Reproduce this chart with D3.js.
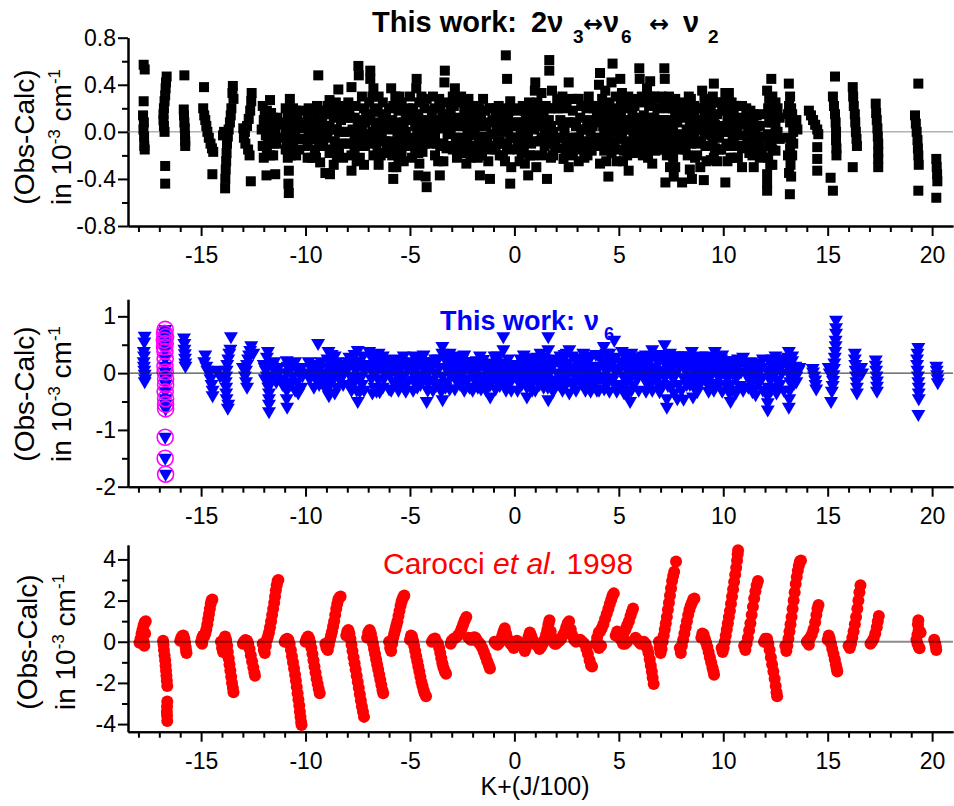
<!DOCTYPE html>
<html>
<head>
<meta charset="utf-8">
<script src="https://cdn.jsdelivr.net/npm/d3@7"></script>
<style>
  body { margin: 0; background: #fff; }
  text { white-space: pre; }
</style>
</head>
<body>
<svg id="chart" width="954" height="806" font-family='"Liberation Sans", Arial, sans-serif'></svg>
<script>
// x = K + J/100
var xMajor = [-15, -10, -5, 0, 5, 10, 15, 20];
var xMinor = [-18, -17, -16, -14, -13, -12, -11, -9, -8, -7, -6, -4, -3, -2, -1,
  1, 2, 3, 4, 6, 7, 8, 9, 11, 12, 13, 14, 16, 17, 18, 19];

var y1Major = [-0.8, -0.4, 0, 0.4, 0.8];
var y1Minor = [-0.6, -0.2, 0.2, 0.6];
var y2Major = [-2, -1, 0, 1];
var y2Minor = [-1.5, -0.5, 0.5];
var y3Major = [-4, -2, 0, 2, 4];
var y3Minor = [-3, -1, 1, 3];

// panel 1 : 2v3 <-> v6 <-> v2 fit (Obs-Calc, 1e-3 cm-1)
var blackRes = [
  [-17.75,0.57],[-17.7,0.53],[-17.75,0.26],[-17.78,0.14],[-17.74,0.08],[-17.76,0.02],[-17.73,-0.04],[-17.72,-0.12],[-17.7,-0.15],
  [-16.65,0.47],[-16.68,0.42],[-16.7,0.37],[-16.72,0.31],[-16.75,0.26],[-16.78,0.2],[-16.8,0.15],[-16.8,0.1],[-16.78,0.05],[-16.75,0.0],[-16.72,-0.29],[-16.72,-0.44],
  [-15.8,0.48],[-15.83,0.19],[-15.82,0.14],[-15.8,0.08],[-15.78,0.03],[-15.77,-0.03],[-15.76,-0.08],[-15.76,-0.12],
  [-14.86,0.38],[-14.9,0.2],[-14.85,0.14],[-14.8,0.1],[-14.75,0.05],[-14.7,0.0],[-14.63,-0.05],[-14.55,-0.1],[-14.48,-0.14],[-14.42,-0.17],[-14.46,-0.36],
  [-13.85,-0.48],[-13.84,-0.4],[-13.82,-0.32],[-13.8,-0.25],[-13.78,-0.18],[-13.76,-0.1],[-13.72,-0.04],[-13.68,0.02],[-13.9,0.0],[-13.95,-0.03],[-13.62,0.08],[-13.58,0.14],[-13.55,0.2],[-13.5,0.33],[-13.48,0.39],[-13.45,0.28],
  [-12.58,0.33],[-12.6,0.26],[-12.65,0.18],[-12.72,0.11],[-12.8,0.05],[-12.9,0.0],[-12.95,-0.05],[-12.88,-0.1],[-12.75,-0.15],[-12.68,-0.2],[-12.62,-0.42],[-12.98,0.03],
  [-11.7,0.27],[-12.05,0.22],[-11.85,0.18],[-11.55,0.12],[-12.0,0.1],[-11.75,0.06],[-12.1,0.02],[-11.45,0.0],[-11.9,-0.03],[-11.65,-0.08],[-12.05,-0.12],[-11.4,-0.1],[-11.85,-0.15],[-12.0,-0.22],[-11.55,-0.2],[-11.87,-0.37],[-11.45,-0.36],
  [-11.95,0.05],[-11.6,0.02],[-11.3,0.06],[-11.8,-0.08],[-11.5,-0.1],[-11.95,0.14],[-11.65,0.16],[-11.35,0.12],[-11.7,-0.2],[-11.3,-0.05],
  [-10.75,0.28],[-10.95,0.2],[-10.6,0.2],[-10.85,0.12],[-10.4,0.14],[-10.7,0.06],[-10.2,0.08],[-10.95,0.0],[-10.5,0.0],[-10.1,0.03],[-10.8,-0.07],[-10.3,-0.06],[-10.95,-0.15],[-10.6,-0.13],[-10.85,-0.22],[-10.45,-0.2],[-10.8,-0.33],[-10.82,-0.44],[-10.8,-0.52],
  [-10.9,0.08],[-10.65,0.1],[-10.35,0.05],[-10.15,-0.06],[-10.6,-0.05],[-10.9,-0.08],[-10.45,0.18],[-10.2,0.18],[-10.7,-0.2],[-10.3,-0.15],
  [-9.39,0.48],[-9.75,0.18],[-9.55,0.15],[-9.9,0.1],[-9.3,0.1],[-9.65,0.05],[-9.85,0.0],[-9.45,0.0],[-9.15,0.02],[-9.7,-0.06],[-9.35,-0.08],[-9.9,-0.12],[-9.55,-0.15],[-9.15,-0.12],[-9.7,-0.22],[-9.3,-0.26],[-9.05,-0.35],
  [-9.95,0.05],[-9.6,0.1],[-9.2,0.08],[-9.8,-0.05],[-9.5,-0.06],[-9.2,-0.05],[-9.85,0.2],[-9.45,0.22],[-9.1,0.18],[-9.5,-0.22],[-9.9,-0.22],
  [-8.43,0.36],[-8.85,0.27],[-8.55,0.25],[-8.2,0.22],[-8.95,0.15],[-8.65,0.12],[-8.3,0.1],[-8.85,0.05],[-8.5,0.02],[-8.15,0.0],[-8.95,-0.05],[-8.6,-0.08],[-8.3,-0.1],[-8.85,-0.18],[-8.5,-0.2],[-8.2,-0.22],[-8.83,-0.36],
  [-8.95,0.22],[-8.7,0.2],[-8.35,0.18],[-8.1,0.12],[-8.75,0.02],[-8.4,0.0],[-8.1,-0.1],[-8.7,-0.15],[-8.4,-0.18],[-8.65,-0.28],
  [-7.47,0.56],[-7.45,0.48],[-7.8,0.38],[-7.3,0.3],[-7.95,0.25],[-7.6,0.22],[-7.2,0.2],[-7.85,0.12],[-7.5,0.1],[-7.15,0.08],[-7.95,0.0],[-7.65,-0.02],[-7.3,0.0],[-7.85,-0.1],[-7.5,-0.12],[-7.15,-0.12],[-7.8,-0.2],[-7.4,-0.22],[-7.8,-0.33],[-7.2,-0.28],
  [-7.9,0.18],[-7.65,0.12],[-7.4,0.05],[-7.1,0.15],[-7.75,0.02],[-7.45,-0.04],[-7.1,-0.04],[-7.65,-0.15],[-7.3,-0.12],[-7.55,-0.25],
  [-6.9,0.52],[-6.9,0.45],[-6.75,0.37],[-6.5,0.3],[-6.95,0.25],[-6.3,0.25],[-6.7,0.17],[-6.15,0.15],[-6.9,0.1],[-6.5,0.08],[-6.2,0.05],[-6.8,0.0],[-6.4,-0.02],[-6.9,-0.1],[-6.6,-0.1],[-6.2,-0.08],[-6.75,-0.2],[-6.4,-0.2],[-6.5,-0.28],
  [-6.8,0.3],[-6.55,0.2],[-6.3,0.12],[-6.1,0.05],[-6.65,0.05],[-6.35,0.0],[-6.1,-0.12],[-6.85,-0.02],[-6.55,-0.18],[-6.25,-0.18],
  [-5.9,0.37],[-5.7,0.3],[-5.4,0.25],[-6.0,0.2],[-5.55,0.18],[-5.2,0.15],[-5.85,0.1],[-5.45,0.08],[-6.0,0.02],[-5.6,0.0],[-5.2,0.0],[-5.9,-0.08],[-5.5,-0.1],[-5.25,-0.12],[-5.85,-0.2],[-5.55,-0.22],[-5.8,-0.3],[-5.8,-0.4],[-5.3,-0.25],
  [-5.8,0.22],[-5.5,0.3],[-5.3,0.08],[-5.1,0.2],[-5.75,0.05],[-5.45,-0.02],[-5.1,-0.08],[-5.7,-0.12],[-5.4,-0.18],[-5.65,-0.3],
  [-4.68,0.45],[-4.7,0.37],[-5.0,0.3],[-4.45,0.3],[-4.85,0.2],[-4.3,0.2],[-4.6,0.15],[-5.05,0.1],[-4.15,0.1],[-4.75,0.05],[-4.4,0.02],[-4.9,-0.05],[-4.55,-0.07],[-4.2,-0.05],[-4.75,-0.15],[-4.4,-0.17],[-4.9,-0.22],[-4.55,-0.27],[-4.6,-0.37],[-4.2,-0.47],[-4.25,-0.38],
  [-4.95,0.18],[-4.55,0.25],[-4.2,0.28],[-4.8,0.12],[-4.45,0.1],[-4.1,0.0],[-4.65,-0.02],[-4.3,-0.1],[-4.95,-0.12],[-4.6,-0.18],
  [-3.33,0.52],[-3.35,0.42],[-3.9,0.3],[-3.6,0.28],[-3.2,0.25],[-3.95,0.18],[-3.45,0.15],[-3.75,0.1],[-3.1,0.1],[-4.0,0.05],[-3.5,0.03],[-3.8,-0.03],[-3.2,-0.02],[-3.95,-0.1],[-3.55,-0.12],[-3.25,-0.14],[-3.8,-0.2],[-3.57,-0.37],[-3.4,-0.25],
  [-3.8,0.2],[-3.55,0.2],[-3.3,0.12],[-3.05,0.18],[-3.7,0.03],[-3.35,0.05],[-3.05,0.0],[-3.7,-0.1],[-3.4,-0.1],[-3.1,-0.12],[-3.65,-0.25],
  [-2.85,0.37],[-2.55,0.3],[-2.2,0.28],[-2.9,0.22],[-2.4,0.18],[-2.7,0.12],[-2.1,0.12],[-2.95,0.05],[-2.5,0.05],[-2.25,0.0],[-2.8,-0.05],[-2.4,-0.08],[-2.95,-0.15],[-2.6,-0.15],[-2.15,-0.15],[-2.3,-0.27],[-2.75,-0.22],
  [-2.95,0.3],[-2.7,0.25],[-2.35,0.25],[-2.05,0.2],[-2.75,0.05],[-2.4,0.1],[-2.1,0.05],[-2.6,-0.05],[-2.25,-0.08],[-2.85,-0.12],[-2.45,-0.18],[-2.1,-0.22],
  [-1.5,0.28],[-1.85,0.22],[-1.2,0.2],[-1.95,0.12],[-1.6,0.14],[-1.05,0.1],[-1.75,0.05],[-1.35,0.05],[-1.9,-0.03],[-1.5,-0.04],[-1.1,-0.02],[-1.8,-0.12],[-1.4,-0.12],[-1.0,-0.12],[-1.75,-0.22],[-1.25,-0.25],[-1.65,-0.37],[-1.17,-0.4],
  [-1.7,0.2],[-1.4,0.18],[-1.05,0.2],[-1.85,0.05],[-1.55,0.06],[-1.2,0.08],[-1.7,-0.08],[-1.3,-0.05],[-1.55,-0.2],[-1.1,-0.15],[-1.9,-0.2],
  [-0.41,0.65],[-0.35,0.45],[-0.2,0.26],[-0.75,0.22],[-0.5,0.2],[-0.9,0.12],[-0.3,0.12],[-0.65,0.08],[-0.1,0.05],[-0.85,0.0],[-0.45,0.0],[-0.2,-0.05],[-0.7,-0.08],[-0.35,-0.12],[-0.9,-0.15],[-0.55,-0.2],[-0.45,-0.25],[-0.2,-0.44],[-0.15,-0.3],
  [-0.85,0.2],[-0.6,0.18],[-0.25,0.18],[-0.75,0.02],[-0.55,0.1],[-0.3,0.02],[-0.05,-0.05],[-0.8,-0.1],[-0.6,-0.1],[-0.25,-0.15],[-0.7,-0.2],
  [0.98,0.35],[0.7,0.25],[0.4,0.22],[0.1,0.18],[0.85,0.12],[0.55,0.1],[0.2,0.08],[0.95,0.02],[0.65,0.0],[0.3,-0.02],[0.05,-0.05],[0.8,-0.1],[0.45,-0.12],[0.15,-0.15],[0.9,-0.2],[0.66,-0.37],[0.5,-0.27],[0.25,-0.25],
  [0.2,0.2],[0.5,0.18],[0.8,0.2],[0.1,0.08],[0.35,0.05],[0.75,0.05],[0.15,-0.08],[0.55,-0.05],[0.95,-0.08],[0.35,-0.18],[0.75,-0.2],
  [1.67,0.61],[1.67,0.52],[1.0,0.42],[1.3,0.33],[1.8,0.35],[1.1,0.25],[1.5,0.22],[1.9,0.2],[1.25,0.12],[1.65,0.1],[1.05,0.05],[1.45,0.02],[1.85,0.0],[1.2,-0.08],[1.6,-0.1],[1.95,-0.12],[1.35,-0.2],[1.75,-0.22],[1.05,-0.3],[1.56,-0.4],
  [1.2,0.2],[1.4,0.15],[1.7,0.2],[1.15,0.05],[1.35,0.08],[1.75,0.05],[1.3,-0.05],[1.55,-0.02],[1.85,-0.08],[1.45,-0.12],[1.85,-0.2],
  [2.6,0.42],[3.0,0.28],[2.3,0.3],[2.1,0.2],[2.5,0.22],[2.8,0.18],[2.2,0.1],[2.65,0.08],[2.95,0.05],[2.4,0.0],[2.1,-0.05],[2.75,-0.05],[2.3,-0.14],[2.6,-0.15],[2.9,-0.12],[2.35,-0.23],[2.6,-0.3],[2.8,-0.2],
  [2.05,0.28],[2.35,0.2],[2.75,0.28],[2.3,0.05],[2.55,0.08],[2.85,0.08],[2.2,-0.05],[2.5,-0.08],[2.95,-0.05],[2.45,-0.15],[2.75,-0.15],
  [3.08,0.28],[3.56,0.3],[3.3,0.22],[3.8,0.2],[3.15,0.12],[3.5,0.1],[3.85,0.08],[3.3,0.02],[3.65,0.0],[3.1,-0.05],[3.45,-0.08],[3.9,-0.06],[3.25,-0.15],[3.7,-0.16],[3.08,-0.25],[3.5,-0.2],
  [3.2,0.22],[3.45,0.2],[3.7,0.22],[3.95,0.15],[3.2,0.02],[3.5,0.05],[3.75,0.05],[3.2,-0.1],[3.55,-0.12],[3.8,-0.12],[3.35,-0.22],
  [4.7,0.58],[4.1,0.5],[4.05,0.4],[4.35,0.35],[4.65,0.42],[4.2,0.28],[4.55,0.25],[4.85,0.3],[4.1,0.18],[4.4,0.15],[4.75,0.15],[4.25,0.05],[4.6,0.05],[4.95,0.05],[4.1,-0.05],[4.45,-0.06],[4.8,-0.08],[4.3,-0.16],[4.65,-0.18],[4.1,-0.27],[4.5,-0.38],[4.9,-0.25],
  [4.05,0.22],[4.5,0.2],[4.9,0.2],[4.2,0.1],[4.55,0.1],[4.85,0.1],[4.3,-0.02],[4.7,0.0],[4.2,-0.12],[4.55,-0.12],[4.9,-0.15],[4.4,-0.25],
  [5.07,0.45],[5.15,0.33],[5.45,0.3],[5.8,0.28],[5.3,0.2],[5.65,0.18],[5.1,0.12],[5.5,0.1],[5.9,0.1],[5.25,0.02],[5.7,0.0],[5.05,-0.06],[5.45,-0.08],[5.85,-0.06],[5.25,-0.16],[5.6,-0.18],[5.47,-0.33],[5.2,-0.25],
  [5.1,0.25],[5.4,0.22],[5.75,0.22],[5.35,0.1],[5.6,0.08],[5.95,0.12],[5.15,0.0],[5.55,0.02],[5.9,0.0],[5.35,-0.1],[5.7,-0.1],[5.4,-0.2],[5.8,-0.18],
  [5.98,0.54],[6.0,0.45],[6.5,0.43],[6.35,0.37],[6.7,0.3],[6.1,0.3],[6.45,0.22],[6.85,0.2],[6.2,0.14],[6.6,0.12],[6.05,0.05],[6.4,0.05],[6.8,0.04],[6.2,-0.04],[6.6,-0.05],[6.9,-0.08],[6.35,-0.14],[6.75,-0.16],[6.6,-0.27],[6.15,-0.2],
  [6.2,0.25],[6.5,0.3],[6.9,0.28],[6.3,0.1],[6.7,0.12],[6.95,0.1],[6.1,-0.02],[6.5,0.0],[6.9,0.0],[6.1,-0.12],[6.45,-0.1],[6.85,-0.15],[6.4,-0.22],
  [7.18,0.54],[7.2,0.45],[7.4,0.3],[7.05,0.3],[7.7,0.28],[7.3,0.2],[7.6,0.2],[7.9,0.18],[7.1,0.1],[7.45,0.1],[7.8,0.08],[7.25,0.0],[7.6,0.0],[7.95,-0.02],[7.1,-0.08],[7.45,-0.1],[7.8,-0.1],[7.3,-0.2],[7.6,-0.22],[7.23,-0.43],[7.63,-0.38],[8.03,-0.43],[7.45,-0.3],
  [7.2,0.22],[7.5,0.22],[7.85,0.22],[7.2,0.05],[7.35,0.08],[7.7,0.12],[7.35,-0.05],[7.7,-0.05],[7.2,-0.15],[7.55,-0.15],[7.9,-0.15],[7.7,-0.3],
  [8.35,0.3],[8.2,0.22],[8.6,0.22],[8.9,0.2],[8.1,0.12],[8.45,0.12],[8.75,0.1],[8.25,0.02],[8.6,0.0],[8.9,0.02],[8.1,-0.08],[8.45,-0.1],[8.75,-0.1],[8.3,-0.2],[8.65,-0.22],[8.5,-0.4],[8.4,-0.32],
  [8.05,0.25],[8.45,0.28],[8.75,0.2],[8.3,0.15],[8.6,0.12],[8.95,0.1],[8.4,0.05],[8.75,0.02],[8.2,-0.05],[8.55,-0.05],[8.95,-0.08],[8.2,-0.15],[8.75,-0.2],[8.9,-0.3],
  [9.55,0.41],[8.99,0.35],[9.2,0.28],[9.5,0.3],[9.8,0.25],[9.1,0.18],[9.4,0.18],[9.7,0.15],[9.25,0.08],[9.6,0.06],[9.9,0.05],[9.1,-0.02],[9.45,-0.03],[9.8,-0.05],[9.25,-0.12],[9.6,-0.14],[9.9,-0.15],[9.4,-0.24],[9.07,-0.41],[9.7,-0.25],
  [9.1,0.28],[9.35,0.25],[9.65,0.25],[9.95,0.18],[9.35,0.12],[9.55,0.12],[9.05,0.08],[9.75,0.02],[9.3,0.0],[9.15,-0.12],[9.5,-0.1],[9.8,-0.15],[9.55,-0.22],[9.2,-0.25],
  [10.1,0.33],[10.27,0.33],[10.4,0.25],[10.7,0.22],[10.15,0.18],[10.5,0.15],[10.85,0.12],[10.3,0.08],[10.65,0.05],[10.1,0.0],[10.45,-0.02],[10.8,-0.03],[10.25,-0.1],[10.6,-0.12],[10.9,-0.14],[10.35,-0.22],[10.7,-0.22],[10.1,-0.43],[10.9,-0.3],
  [10.2,0.25],[10.55,0.22],[10.9,0.22],[10.2,0.1],[10.45,0.08],[10.8,0.06],[10.3,0.0],[10.6,0.0],[10.15,-0.12],[10.5,-0.1],[10.8,-0.12],[10.5,-0.22],[10.2,-0.25],
  [11.3,0.18],[11.6,0.14],[11.1,0.1],[11.45,0.06],[11.75,0.05],[11.2,0.0],[11.55,-0.03],[11.85,-0.04],[11.3,-0.1],[11.65,-0.12],[11.46,-0.3],[11.4,-0.2],[11.75,-0.22],
  [11.1,0.2],[11.45,0.15],[11.8,0.15],[11.25,0.08],[11.6,0.05],[11.15,-0.08],[11.4,-0.05],[11.75,-0.1],[11.25,-0.18],[11.55,-0.15],[11.85,-0.18],
  [12.3,0.45],[12.1,0.35],[12.2,0.28],[12.5,0.25],[12.15,0.2],[12.4,0.15],[12.7,0.12],[12.2,0.08],[12.5,0.05],[12.15,-0.02],[12.45,-0.05],[12.7,-0.06],[12.2,-0.12],[12.5,-0.16],[12.15,-0.22],[12.35,-0.28],[12.1,-0.36],[12.1,-0.44],[12.1,-0.5],
  [12.35,0.3],[12.6,0.2],[12.3,0.08],[12.6,0.0],[12.3,-0.08],[12.6,-0.05],[12.35,-0.15],[12.25,-0.28],[12.25,0.15],
  [13.14,0.41],[13.2,0.3],[13.15,0.22],[13.3,0.15],[13.2,0.08],[13.35,0.0],[13.25,-0.06],[13.2,-0.14],[13.3,-0.2],[13.22,-0.28],[13.25,-0.38],[13.19,-0.53],[13.5,0.1],[13.55,0.02],
  [13.1,0.15],[13.25,0.2],[13.4,0.05],[13.1,-0.05],[13.35,-0.1],[13.1,-0.2],[13.15,-0.35],
  [14.1,0.18],[14.2,0.14],[14.3,0.1],[14.4,0.06],[14.5,0.02],[14.55,-0.02],[14.5,-0.13],[14.5,-0.23],[14.5,-0.33],
  [15.35,0.47],[15.25,0.3],[15.3,0.22],[15.35,0.15],[15.38,0.08],[15.4,0.0],[15.4,-0.07],[15.42,-0.14],[15.42,-0.2],[15.14,-0.39],[15.25,-0.5],
  [16.2,0.38],[16.22,0.3],[16.25,0.22],[16.3,0.15],[16.32,0.08],[16.35,0.0],[16.38,-0.06],[16.4,-0.12],[16.2,-0.3],
  [17.3,0.24],[17.32,0.16],[17.35,0.1],[17.38,0.03],[17.4,-0.04],[17.42,-0.1],[17.42,-0.17],[17.42,-0.23],[17.42,-0.3],
  [19.34,0.41],[19.18,0.14],[19.22,0.07],[19.26,0.0],[19.3,-0.07],[19.32,-0.14],[19.34,-0.2],[19.36,-0.28],[19.34,-0.5],
  [20.2,-0.23],[20.22,-0.3],[20.24,-0.36],[20.25,-0.42],[20.2,-0.56]
];

// panel 2 : v6 alone
var blueRes = [
  [-17.7,0.65],[-17.72,0.55],[-17.74,0.38],[-17.73,0.3],[-17.75,0.2],[-17.74,0.12],[-17.72,0.05],[-17.7,-0.02],[-17.68,-0.1],[-17.7,-0.15],
  [-15.82,0.62],[-15.8,0.52],[-15.8,0.42],[-15.78,0.34],[-15.77,0.26],[-15.76,0.18],[-15.75,0.12],
  [-14.8,0.32],[-14.85,0.2],[-14.75,0.12],[-14.7,0.05],[-14.6,0.0],[-14.55,-0.1],[-14.5,-0.2],[-14.45,-0.3],[-14.45,-0.4],[-14.2,0.05],[-14.1,-0.05],
  [-13.57,0.64],[-13.6,0.42],[-13.65,0.35],[-13.7,0.25],[-13.75,0.15],[-13.78,0.05],[-13.8,-0.05],[-13.82,-0.15],[-13.8,-0.25],[-13.8,-0.35],[-13.78,-0.45],[-13.7,-0.55],[-13.72,-0.62],
  [-12.6,0.48],[-12.65,0.4],[-12.7,0.32],[-12.75,0.25],[-12.8,0.15],[-12.85,0.05],[-12.9,-0.05],[-12.85,-0.15],[-12.8,-0.25],[-13.0,0.1],[-12.5,0.35],
  [-11.8,0.38],[-11.85,0.28],[-12.0,0.15],[-11.9,0.05],[-11.85,-0.05],[-11.8,-0.15],[-11.78,-0.25],[-11.75,-0.35],[-11.75,-0.45],[-11.75,-0.55],[-11.75,-0.68],[-11.5,0.2],[-11.4,0.1],[-11.3,0.0],[-11.2,-0.1],[-11.1,-0.2],
  [-11.95,0.1],[-11.6,0.12],[-11.3,0.1],[-11.6,-0.05],[-11.4,-0.15],[-11.95,-0.1],
  [-10.9,0.22],[-10.85,0.12],[-10.9,0.0],[-10.9,-0.15],[-10.9,-0.3],[-10.9,-0.45],[-10.88,-0.6],[-10.5,0.2],[-10.4,0.1],[-10.3,0.0],[-10.6,-0.05],[-10.4,-0.15],[-10.2,-0.25],[-10.5,-0.3],
  [-10.7,0.15],[-10.75,0.05],[-10.2,0.1],[-10.15,-0.05],[-10.7,-0.2],[-10.35,-0.35],
  [-9.4,0.52],[-9.6,0.15],[-9.5,0.05],[-9.3,0.1],[-9.2,0.0],[-9.4,-0.1],[-9.1,-0.15],[-9.35,-0.2],[-9.0,-0.3],[-9.9,0.0],[-9.8,-0.1],
  [-9.75,0.1],[-9.55,-0.05],[-9.25,0.2],[-9.15,-0.05],[-9.6,-0.25],[-9.85,0.2],
  [-8.9,0.38],[-8.75,0.33],[-8.6,0.3],[-8.8,0.2],[-8.5,0.2],[-8.9,0.1],[-8.6,0.08],[-8.3,0.1],[-8.8,0.0],[-8.45,-0.02],[-8.15,0.0],[-8.7,-0.12],[-8.35,-0.12],[-8.85,-0.22],[-8.5,-0.25],[-8.88,-0.4],[-8.2,-0.2],
  [-8.95,0.25],[-8.45,0.15],[-8.2,0.15],[-8.65,-0.05],[-8.3,-0.08],[-8.6,-0.35],
  [-7.5,0.4],[-7.9,0.28],[-7.25,0.3],[-7.7,0.2],[-7.4,0.15],[-7.95,0.1],[-7.6,0.05],[-7.2,0.05],[-7.85,-0.05],[-7.45,-0.08],[-7.7,-0.18],[-7.3,-0.2],[-7.55,-0.3],[-7.5,-0.5],
  [-7.95,0.2],[-7.55,0.2],[-7.1,0.15],[-7.65,-0.08],[-7.3,-0.05],[-7.85,-0.2],[-7.4,-0.32],
  [-6.95,0.38],[-6.5,0.35],[-6.8,0.25],[-6.2,0.22],[-6.6,0.15],[-6.9,0.08],[-6.35,0.08],[-6.7,0.0],[-6.15,-0.02],[-6.85,-0.1],[-6.5,-0.12],[-6.7,-0.25],[-6.8,-0.35],[-6.3,-0.25],
  [-6.75,0.32],[-6.4,0.2],[-6.1,0.12],[-6.55,0.05],[-6.25,-0.1],[-6.6,-0.32],
  [-5.7,0.24],[-5.95,0.18],[-5.4,0.2],[-5.8,0.08],[-5.5,0.06],[-5.15,0.1],[-5.95,-0.02],[-5.6,-0.05],[-5.25,-0.03],[-5.8,-0.15],[-5.45,-0.15],[-5.9,-0.3],[-5.3,-0.25],
  [-5.85,0.25],[-5.55,0.15],[-5.2,0.2],[-5.65,-0.15],[-5.35,-0.08],[-5.1,-0.15],[-5.55,-0.3],
  [-4.8,0.3],[-4.5,0.28],[-4.95,0.18],[-4.2,0.2],[-4.65,0.12],[-4.35,0.08],[-4.9,0.03],[-4.1,0.02],[-4.55,-0.03],[-4.8,-0.12],[-4.25,-0.12],[-4.5,-0.2],[-4.15,-0.3],[-4.2,-0.5],
  [-4.65,0.25],[-4.3,0.2],[-4.75,0.05],[-4.4,-0.05],[-4.1,-0.15],[-4.65,-0.25],
  [-3.45,0.47],[-3.1,0.35],[-3.45,0.35],[-3.8,0.25],[-3.25,0.2],[-3.95,0.12],[-3.6,0.1],[-3.15,0.05],[-3.8,0.0],[-3.45,-0.05],[-3.9,-0.12],[-3.6,-0.18],[-3.2,-0.15],[-3.5,-0.32],[-3.44,-0.47],
  [-3.95,0.2],[-3.65,0.25],[-3.3,0.1],[-3.05,-0.05],[-3.75,-0.22],[-3.3,-0.25],
  [-2.8,0.3],[-2.5,0.25],[-2.95,0.18],[-2.2,0.2],[-2.65,0.12],[-2.35,0.08],[-2.9,0.05],[-2.1,0.02],[-2.55,-0.05],[-2.8,-0.12],[-2.25,-0.12],[-2.6,-0.2],[-2.4,-0.3],
  [-2.95,0.25],[-2.65,0.22],[-2.35,0.2],[-2.15,0.1],[-2.7,0.0],[-2.45,-0.1],[-2.15,-0.25],
  [-1.5,0.24],[-1.9,0.2],[-1.2,0.18],[-1.7,0.1],[-1.4,0.08],[-1.95,0.0],[-1.1,0.02],[-1.6,-0.05],[-1.3,-0.06],[-1.85,-0.15],[-1.45,-0.18],[-1.15,-0.2],[-1.6,-0.28],[-1.16,-0.42],
  [-1.8,0.22],[-1.55,0.15],[-1.3,0.15],[-1.05,0.15],[-1.8,-0.05],[-1.5,-0.1],[-1.25,-0.15],[-1.75,-0.25],
  [-0.53,0.64],[-0.53,0.41],[-0.85,0.22],[-0.3,0.25],[-0.7,0.12],[-0.4,0.1],[-0.95,0.05],[-0.15,0.05],[-0.6,-0.02],[-0.25,-0.05],[-0.85,-0.1],[-0.45,-0.15],[-0.7,-0.22],[-0.4,-0.3],
  [-0.8,0.3],[-0.6,0.18],[-0.2,0.15],[-0.8,0.0],[-0.5,0.0],[-0.1,-0.05],[-0.6,-0.12],[-0.25,-0.2],
  [0.1,0.15],[0.8,0.27],[0.4,0.18],[0.25,0.05],[0.65,0.08],[0.05,0.0],[0.9,0.05],[0.45,-0.03],[0.15,-0.12],[0.75,-0.1],[0.35,-0.2],[0.6,-0.25],[0.6,-0.42],
  [0.3,0.25],[0.6,0.2],[0.9,0.2],[0.2,0.1],[0.5,0.08],[0.8,0.0],[0.3,-0.1],[0.55,-0.12],[0.9,-0.15],
  [1.62,0.64],[1.62,0.41],[1.3,0.28],[1.9,0.25],[1.15,0.15],[1.5,0.15],[1.8,0.1],[1.3,0.05],[1.05,-0.02],[1.65,-0.02],[1.4,-0.1],[1.9,-0.12],[1.2,-0.2],[1.6,-0.25],[1.62,-0.47],
  [1.1,0.28],[1.45,0.25],[1.7,0.22],[1.4,0.05],[1.7,0.05],[1.25,-0.08],[1.55,-0.12],[1.85,-0.2],[1.4,-0.25],
  [2.63,0.41],[2.4,0.33],[2.9,0.25],[2.15,0.2],[2.55,0.18],[2.8,0.1],[2.3,0.08],[2.05,0.0],[2.6,0.02],[2.9,-0.05],[2.35,-0.1],[2.7,-0.15],[2.15,-0.2],[2.63,-0.35],
  [2.2,0.3],[2.75,0.3],[2.4,0.15],[2.7,0.05],[2.2,-0.05],[2.45,-0.2],[2.85,-0.2],
  [3.15,0.27],[3.9,0.33],[3.5,0.2],[3.25,0.12],[3.75,0.12],[3.05,0.05],[3.45,0.02],[3.85,0.0],[3.2,-0.08],[3.6,-0.1],[3.9,-0.15],[3.35,-0.2],[3.4,-0.3],
  [3.4,0.3],[3.65,0.28],[3.1,0.18],[3.6,0.05],[3.15,-0.15],[3.7,-0.2],[3.5,-0.05],
  [4.78,0.58],[4.28,0.47],[4.55,0.35],[4.1,0.3],[4.85,0.28],[4.35,0.2],[4.65,0.15],[4.05,0.1],[4.45,0.05],[4.9,0.05],[4.2,-0.05],[4.6,-0.08],[4.35,-0.18],[4.8,-0.2],[4.55,-0.32],
  [4.2,0.2],[4.7,0.25],[4.3,0.1],[4.75,0.08],[4.1,-0.1],[4.45,-0.15],[4.7,-0.12],[4.3,-0.28],
  [5.15,0.38],[5.5,0.3],[5.85,0.25],[5.25,0.2],[5.65,0.15],[5.05,0.08],[5.4,0.05],[5.8,0.05],[5.2,-0.05],[5.55,-0.1],[5.9,-0.08],[5.3,-0.2],[5.7,-0.22],[5.54,-0.5],[5.45,-0.35],
  [5.3,0.3],[5.7,0.28],[5.1,0.18],[5.5,0.12],[5.9,0.1],[5.3,-0.05],[5.75,-0.02],[5.1,-0.2],[5.6,-0.3],
  [6.3,0.32],[6.6,0.41],[6.1,0.22],[6.45,0.2],[6.85,0.22],[6.2,0.1],[6.6,0.08],[6.05,0.0],[6.4,-0.02],[6.8,-0.02],[6.25,-0.12],[6.6,-0.15],[6.9,-0.2],[6.6,-0.3],
  [6.15,0.3],[6.5,0.28],[6.75,0.3],[6.35,0.12],[6.75,0.1],[6.2,-0.05],[6.5,-0.05],[6.4,-0.2],[6.8,-0.12],
  [7.19,0.5],[7.45,0.35],[7.8,0.3],[7.1,0.28],[7.6,0.2],[7.3,0.15],[7.9,0.12],[7.05,0.05],[7.5,0.05],[7.75,0.0],[7.2,-0.08],[7.6,-0.1],[7.35,-0.22],[7.85,-0.2],[7.3,-0.6],[7.3,-0.45],[7.8,-0.45],
  [7.35,0.3],[7.65,0.3],[7.2,0.18],[7.5,0.15],[7.85,0.18],[7.3,0.02],[7.65,-0.05],[7.1,-0.2],[7.5,-0.25],
  [8.5,0.38],[8.2,0.3],[8.8,0.28],[8.05,0.18],[8.4,0.18],[8.7,0.15],[8.2,0.05],[8.55,0.05],[8.9,0.02],[8.1,-0.08],[8.45,-0.1],[8.8,-0.1],[8.25,-0.2],[8.6,-0.25],[8.1,-0.46],[8.55,-0.42],
  [8.35,0.3],[8.65,0.25],[8.3,0.12],[8.85,0.1],[8.35,-0.05],[8.7,-0.02],[8.4,-0.2],[8.85,-0.22],
  [9.6,0.38],[9.3,0.28],[9.9,0.25],[9.1,0.18],[9.5,0.18],[9.8,0.1],[9.25,0.08],[9.6,0.05],[9.05,-0.02],[9.4,-0.05],[9.8,-0.08],[9.2,-0.15],[9.6,-0.18],[9.3,-0.32],
  [9.2,0.3],[9.45,0.28],[9.75,0.22],[9.4,0.1],[9.7,0.0],[9.1,-0.1],[9.45,-0.2],[9.8,-0.2],
  [10.5,0.22],[10.15,0.2],[10.8,0.18],[10.3,0.1],[10.65,0.08],[10.05,0.02],[10.45,0.0],[10.85,0.02],[10.2,-0.1],[10.6,-0.1],[10.35,-0.2],[10.8,-0.22],[10.3,-0.35],[10.35,-0.5],
  [10.35,0.22],[10.7,0.25],[10.1,0.12],[10.55,0.12],[10.25,0.0],[10.7,-0.02],[10.45,-0.3],[10.15,-0.22],
  [11.2,0.15],[11.55,0.12],[11.85,0.1],[11.35,0.05],[11.7,0.02],[11.1,-0.02],[11.5,-0.05],[11.85,-0.08],[11.3,-0.15],[11.65,-0.18],[11.45,-0.28],[11.55,-0.38],
  [11.35,0.2],[11.7,0.18],[11.15,0.08],[11.55,0.02],[11.35,-0.08],[11.75,-0.15],[11.2,-0.25],
  [12.5,0.3],[12.2,0.22],[12.75,0.2],[12.35,0.12],[12.6,0.08],[12.15,0.02],[12.45,-0.02],[12.8,0.0],[12.25,-0.12],[12.6,-0.12],[12.15,-0.25],[12.5,-0.25],[12.13,-0.4],[12.13,-0.52],[12.13,-0.65],
  [12.35,0.25],[12.65,0.25],[12.3,0.05],[12.7,0.08],[12.35,-0.05],[12.7,-0.2],[12.3,-0.3],
  [13.14,0.38],[13.1,0.28],[13.3,0.22],[13.15,0.15],[13.45,0.12],[13.2,0.05],[13.6,0.05],[13.2,-0.05],[13.5,-0.05],[13.2,-0.15],[13.4,-0.18],[13.18,-0.3],[13.16,-0.45],[13.14,-0.6],
  [13.3,0.3],[13.35,0.05],[13.3,-0.1],[13.5,-0.15],[13.65,0.1],
  [-7.8,-0.3],[-7.2,-0.3],[-6.45,-0.33],[-6.0,-0.28],[-5.2,-0.32],[-4.85,-0.3],[-3.9,-0.3],[-3.1,-0.28],[-2.85,-0.28],[-2.0,-0.3],[-1.35,-0.3],[-0.9,-0.28],[-0.15,-0.3],
  [0.15,-0.3],[0.85,-0.3],[1.0,-0.3],[1.85,-0.32],[2.3,-0.3],[2.95,-0.3],[3.65,-0.32],[3.95,-0.3],[4.05,-0.3],[4.9,-0.32],[5.25,-0.35],[5.95,-0.3],[6.3,-0.32],[6.95,-0.33],
  [7.65,-0.35],[8.0,-0.3],[8.75,-0.33],[9.55,-0.3],[9.95,-0.32],[10.6,-0.35],[10.95,-0.3],[11.4,-0.33],[11.9,-0.3],[12.55,-0.35],[12.9,-0.3],
  [-7.65,0.33],[-6.3,0.3],[-5.3,0.3],[-4.35,0.32],[-3.35,0.3],[-2.4,0.32],[-1.65,0.3],[-0.95,0.3],[0.45,0.32],[1.25,0.35],[2.5,0.35],[3.3,0.35],[4.4,0.35],
  [5.6,0.35],[6.95,0.33],[7.95,0.3],[8.95,0.3],[9.95,0.32],[10.95,0.28],[11.9,0.25],[12.95,0.25],
  [14.28,0.08],[14.3,0.02],[14.35,-0.05],[14.4,-0.12],[14.42,-0.2],[14.45,-0.28],
  [15.4,0.93],[15.4,0.8],[15.4,0.7],[15.38,0.58],[15.38,0.48],[15.36,0.38],[15.34,0.28],[15.32,0.18],[15.3,0.08],[15.28,-0.03],[15.26,-0.13],[15.24,-0.22],[15.2,-0.32],[15.16,-0.5],[15.05,0.1],[15.1,0.0],
  [16.3,0.35],[16.3,0.25],[16.32,0.15],[16.34,0.05],[16.36,-0.05],[16.38,-0.15],[16.4,-0.25],[16.4,-0.35],[16.6,0.1],[16.65,0.0],
  [17.3,0.23],[17.3,0.14],[17.32,0.05],[17.34,-0.05],[17.36,-0.14],[17.36,-0.23],[17.36,-0.32],
  [19.34,0.45],[19.3,0.35],[19.28,0.25],[19.28,0.15],[19.3,0.05],[19.32,-0.05],[19.34,-0.15],[19.36,-0.25],[19.36,-0.35],[19.36,-0.45],[19.34,-0.73],
  [20.2,0.12],[20.22,0.05],[20.24,-0.03],[20.26,-0.1],[20.27,-0.17]
];

// v6 lines circled in magenta (K = -17 series)
var blueFlagged = [
  [-16.72,0.77],[-16.75,0.7],[-16.7,0.64],[-16.76,0.58],[-16.72,0.52],[-16.75,0.46],[-16.73,0.38],[-16.72,0.25],[-16.73,0.12],
  [-16.72,0.02],[-16.7,-0.1],[-16.7,-0.2],[-16.72,-0.33],[-16.7,-0.45],[-16.7,-0.55],[-16.7,-0.63],[-16.72,-1.13],[-16.72,-1.5],[-16.7,-1.78]
];

// panel 3 : Carocci et al. 1998 parameters
var redRes = [
  [-17.95,-0.05],[-17.9,0.15],[-17.85,0.4],[-17.8,0.6],[-17.75,0.8],[-17.7,0.95],[-17.65,1.0],[-17.8,0.2],[-17.75,0.0],[-17.72,-0.2],[-17.68,0.4],
  [-16.82,0.05],[-16.8,-0.15],[-16.78,-0.4],[-16.75,-0.65],[-16.72,-0.9],[-16.7,-1.15],[-16.68,-1.4],[-16.66,-1.65],[-16.64,-1.9],[-16.62,-2.15],[-16.62,-2.9],[-16.63,-3.15],[-16.64,-3.4],[-16.63,-3.6],[-16.62,-3.85],
  [-16.0,0.05],[-15.95,0.2],[-15.9,0.28],[-15.85,0.3],[-15.8,0.15],[-15.77,-0.05],[-15.74,-0.25],[-15.72,-0.42],[-15.7,-0.55],
  [-15.0,0.0],[-14.95,0.2],[-14.9,0.3],[-14.85,0.25],[-14.8,0.4],[-14.75,0.6],[-14.7,0.85],[-14.66,1.1],[-14.62,1.35],[-14.58,1.6],[-14.54,1.85],[-14.5,2.0],[-14.46,2.05],[-14.95,-0.1],
  [-14.05,0.0],[-14.0,-0.3],[-13.95,-0.5],[-13.9,0.15],[-13.85,0.25],[-13.8,0.1],[-13.75,-0.2],[-13.72,-0.5],[-13.68,-0.8],[-13.64,-1.1],[-13.6,-1.4],[-13.56,-1.7],[-13.52,-2.0],[-13.48,-2.25],[-13.45,-2.45],
  [-13.0,-0.1],[-12.95,0.0],[-12.88,0.08],[-12.8,0.05],[-12.74,-0.1],[-12.68,-0.35],[-12.62,-0.65],[-12.56,-0.95],[-12.5,-1.25],[-12.45,-1.5],[-12.42,-1.65],
  [-12.05,-0.1],[-12.0,-0.4],[-11.95,-0.55],[-11.9,-0.2],[-11.85,0.1],[-11.8,0.25],[-11.75,0.45],[-11.7,0.7],[-11.65,1.0],[-11.6,1.3],[-11.55,1.6],[-11.5,1.9],[-11.46,2.2],[-11.42,2.5],[-11.38,2.75],[-11.34,2.95],[-11.3,3.0],
  [-11.0,0.0],[-10.95,0.1],[-10.88,0.15],[-10.82,0.1],[-10.76,-0.1],[-10.7,-0.4],[-10.65,-0.7],[-10.6,-1.0],[-10.55,-1.3],[-10.5,-1.6],[-10.46,-1.9],[-10.42,-2.2],[-10.38,-2.5],[-10.34,-2.8],[-10.3,-3.1],[-10.27,-3.4],[-10.24,-3.65],[-10.21,-3.9],[-10.19,-4.05],
  [-10.0,0.0],[-9.95,0.15],[-9.88,0.25],[-9.82,0.15],[-9.77,-0.05],[-9.72,-0.3],[-9.67,-0.6],[-9.62,-0.9],[-9.57,-1.2],[-9.52,-1.5],[-9.47,-1.8],[-9.42,-2.05],[-9.37,-2.3],[-9.32,-2.5],
  [-9.05,-0.1],[-9.0,-0.3],[-8.93,-0.4],[-8.88,-0.15],[-8.83,0.1],[-8.78,0.3],[-8.73,0.5],[-8.68,0.75],[-8.63,1.0],[-8.58,1.3],[-8.53,1.6],[-8.48,1.85],[-8.43,2.05],[-8.37,2.15],[-8.32,2.2],
  [-8.05,0.3],[-8.0,0.5],[-7.95,0.57],[-7.9,0.4],[-7.85,0.15],[-7.8,-0.15],[-7.75,-0.45],[-7.7,-0.75],[-7.65,-1.05],[-7.6,-1.35],[-7.55,-1.65],[-7.5,-1.95],[-7.45,-2.25],[-7.4,-2.55],[-7.35,-2.85],[-7.3,-3.15],[-7.25,-3.4],[-7.2,-3.65],
  [-7.05,0.2],[-7.0,0.45],[-6.93,0.57],[-6.87,0.4],[-6.82,0.15],[-6.77,-0.1],[-6.72,-0.35],[-6.67,-0.6],[-6.62,-0.85],[-6.57,-1.1],[-6.52,-1.35],[-6.47,-1.6],[-6.42,-1.85],[-6.37,-2.1],[-6.32,-2.35],[-6.28,-2.5],
  [-6.0,0.0],[-5.95,-0.3],[-5.9,-0.45],[-5.85,-0.1],[-5.8,0.2],[-5.75,0.4],[-5.7,0.6],[-5.65,0.8],[-5.6,1.0],[-5.55,1.25],[-5.5,1.5],[-5.45,1.75],[-5.4,1.95],[-5.35,2.1],[-5.3,2.2],[-5.27,2.25],
  [-5.0,0.1],[-4.95,0.3],[-4.9,0.25],[-4.85,0.05],[-4.8,-0.2],[-4.75,-0.45],[-4.7,-0.7],[-4.65,-0.95],[-4.6,-1.2],[-4.55,-1.45],[-4.5,-1.7],[-4.45,-1.95],[-4.4,-2.15],[-4.35,-2.35],[-4.3,-2.5],[-4.23,-2.65],
  [-3.95,0.0],[-3.88,0.12],[-3.8,0.16],[-3.73,0.0],[-3.66,-0.1],[-3.6,-0.3],[-3.55,-0.55],[-3.5,-0.8],[-3.45,-1.05],[-3.4,-1.25],[-3.33,-1.45],[-3.27,-1.55],
  [-3.05,-0.1],[-3.0,0.05],[-2.9,0.15],[-2.8,0.2],[-2.7,0.3],[-2.6,0.45],[-2.52,0.65],[-2.45,0.85],[-2.38,1.05],[-2.3,1.2],[-2.2,0.2],[-2.1,0.1],
  [-2.0,0.1],[-1.93,0.22],[-1.86,0.2],[-1.78,0.05],[-1.7,-0.05],[-1.62,-0.15],[-1.54,-0.3],[-1.46,-0.5],[-1.38,-0.7],[-1.3,-0.95],[-1.22,-1.15],[-1.17,-1.3],
  [-0.95,0.0],[-0.88,-0.1],[-0.8,-0.15],[-0.72,-0.05],[-0.65,0.1],[-0.58,0.3],[-0.52,0.5],[-0.46,0.65],[-0.4,0.4],[-0.32,0.15],[-0.25,0.0],[-0.18,-0.1],[-0.1,-0.2],[-0.03,-0.3],[0.05,-0.1],[0.12,0.05],
  [0.2,0.0],[0.28,-0.1],[0.36,-0.2],[0.44,-0.3],[0.5,-0.45],[0.55,-0.3],[0.62,0.0],[0.68,0.25],[0.74,0.45],[0.8,0.3],[0.88,0.1],[0.96,-0.05],[1.04,-0.15],[1.12,-0.2],
  [1.2,-0.35],[1.28,-0.25],[1.36,-0.1],[1.44,0.1],[1.52,0.35],[1.58,0.6],[1.63,0.85],[1.68,1.05],[1.74,0.5],[1.8,0.2],[1.86,0.0],[1.93,-0.1],
  [2.0,-0.1],[2.08,0.0],[2.16,0.05],[2.24,0.15],[2.32,0.3],[2.4,0.45],[2.48,0.7],[2.55,0.9],[2.62,1.0],[2.7,0.6],[2.78,0.3],[2.86,0.1],
  [2.95,0.0],[3.05,0.05],[3.15,0.1],[3.25,0.0],[3.35,-0.1],[3.45,-0.35],[3.52,-0.6],[3.6,-0.9],[3.67,-1.15],[3.72,-1.2],
  [3.9,-0.1],[3.96,0.2],[4.04,0.45],[4.1,0.5],[4.18,0.65],[4.26,0.85],[4.34,1.1],[4.42,1.35],[4.5,1.6],[4.57,1.85],[4.64,2.05],[4.7,2.25],[4.76,2.35],[4.05,-0.3],[4.15,-0.2],
  [4.85,0.3],[4.92,0.5],[5.0,0.4],[5.08,0.3],[5.16,0.35],[5.24,0.45],[5.32,0.6],[5.4,0.8],[5.48,1.0],[5.56,1.25],[5.62,1.45],[5.68,1.62],[5.1,0.1],[5.2,-0.1],[5.3,-0.1],[5.4,0.0],
  [5.8,0.2],[5.88,0.1],[5.96,0.0],[6.04,-0.1],[6.12,-0.05],[6.2,0.0],[6.28,-0.1],[6.35,-0.3],[6.42,-0.55],[6.48,-0.85],[6.53,-1.15],[6.58,-1.45],[6.62,-1.75],[6.67,-2.05],
  [6.92,0.0],[6.95,-0.3],[7.0,-0.55],[7.05,-0.35],[7.1,0.0],[7.15,0.3],[7.2,0.6],[7.25,0.9],[7.3,1.2],[7.35,1.55],[7.4,1.9],[7.45,2.25],[7.5,2.6],[7.55,2.95],[7.6,3.2],[7.65,3.4],[7.74,3.9],
  [7.92,-0.3],[7.97,-0.55],[8.02,-0.2],[8.08,0.1],[8.14,0.4],[8.2,0.7],[8.26,1.0],[8.32,1.3],[8.38,1.55],[8.44,1.75],[8.5,1.9],[8.56,2.05],[8.62,2.1],
  [8.95,0.2],[9.0,0.4],[9.06,0.35],[9.12,0.15],[9.18,-0.05],[9.24,-0.25],[9.3,-0.5],[9.36,-0.75],[9.42,-1.0],[9.48,-1.25],[9.53,-1.45],[9.56,-1.6],
  [9.92,-0.3],[9.97,-0.5],[10.02,-0.3],[10.07,0.0],[10.12,0.3],[10.17,0.6],[10.22,0.9],[10.27,1.2],[10.32,1.5],[10.37,1.85],[10.42,2.2],[10.47,2.55],[10.52,2.9],[10.57,3.25],[10.62,3.6],[10.66,3.95],[10.69,4.25],[10.71,4.45],
  [11.0,-0.2],[11.06,-0.4],[11.12,-0.1],[11.18,0.2],[11.24,0.55],[11.3,0.9],[11.36,1.3],[11.42,1.7],[11.48,2.1],[11.54,2.45],[11.6,2.75],[11.66,2.95],
  [11.95,0.0],[12.02,0.15],[12.1,0.15],[12.16,-0.1],[12.22,-0.4],[12.28,-0.75],[12.34,-1.1],[12.4,-1.45],[12.46,-1.8],[12.51,-2.15],[12.55,-2.45],[12.58,-2.65],
  [12.97,-0.2],[13.02,-0.45],[13.07,-0.2],[13.12,0.15],[13.17,0.5],[13.22,0.85],[13.27,1.2],[13.32,1.6],[13.37,2.0],[13.42,2.4],[13.47,2.8],[13.52,3.15],[13.57,3.45],[13.62,3.7],[13.67,3.9],[13.72,3.95],
  [14.0,0.0],[14.08,0.1],[14.16,0.2],[14.24,0.35],[14.32,0.6],[14.4,0.95],[14.46,1.3],[14.51,1.6],[14.56,1.78],[14.1,-0.15],
  [15.0,0.1],[15.05,0.3],[15.1,0.15],[15.16,-0.1],[15.22,-0.35],[15.28,-0.6],[15.34,-0.85],[15.39,-1.1],[15.43,-1.3],[15.46,-1.45],
  [16.0,-0.2],[16.06,-0.3],[16.12,-0.1],[16.18,0.2],[16.24,0.5],[16.3,0.85],[16.36,1.2],[16.42,1.6],[16.47,2.0],[16.52,2.4],[16.57,2.75],
  [17.05,-0.1],[17.12,0.0],[17.2,0.15],[17.28,0.4],[17.35,0.7],[17.4,1.0],[17.45,1.25],
  [19.34,1.05],[19.32,0.85],[19.36,0.6],[19.3,0.35],[19.25,0.1],[19.3,-0.1],[19.36,-0.25],[19.4,-0.32],[19.45,0.45],
  [20.1,0.1],[20.15,-0.1],[20.18,-0.25],[20.2,-0.4]
];

var svg = d3.select('#chart');
var FONT = '"Liberation Sans", Arial, sans-serif';

var x = d3.scaleLinear().domain([-18.5, 21]).range([128, 953]);

// tick labels with a plain hyphen, as in the original
function fmt1(d) { return d.toFixed(1); }
function fmt0(d) { return String(d); }

var panels = [
  { y: d3.scaleLinear().domain([-0.8, 0.8]).range([226, 37.7]), major: y1Major, minor: y1Minor,
    fmt: fmt1, lab1: 33.5, lab2: 71, labY: 137, zero: '#8a8a8a', zeroW: 1 },
  { y: d3.scaleLinear().domain([-2, 1.3]).range([486.7, 299.3]), major: y2Major, minor: y2Minor,
    fmt: fmt0, lab1: 33.5, lab2: 71, labY: 394, zero: '#222', zeroW: 1 },
  { y: d3.scaleLinear().domain([-4.37, 4.7]).range([731.7, 545]), major: y3Major, minor: y3Minor,
    fmt: fmt0, lab1: 37, lab2: 75, labY: 642, zero: 'rgba(0,0,0,0.45)', zeroW: 2 }
];

function styleAxis(g) {
  g.selectAll('path, line').attr('stroke', '#000').attr('stroke-width', 2);
  g.selectAll('text').attr('font-size', 23).attr('fill', '#000').attr('font-family', FONT);
}

function drawAxes(p) {
  var h = p.y.range()[0];
  // x axis
  svg.append('g').attr('transform', 'translate(0,' + h + ')')
    .call(d3.axisBottom(x).tickValues(xMinor).tickSize(6).tickFormat('').tickSizeOuter(0))
    .call(styleAxis);
  svg.append('g').attr('transform', 'translate(0,' + h + ')')
    .call(d3.axisBottom(x).tickValues(xMajor).tickSize(10).tickPadding(11).tickFormat(fmt0).tickSizeOuter(0))
    .call(styleAxis);
  // y axis
  svg.append('g').attr('transform', 'translate(' + x.range()[0] + ',0)')
    .call(d3.axisLeft(p.y).tickValues(p.minor).tickSize(6).tickFormat('').tickSizeOuter(0))
    .call(styleAxis);
  svg.append('g').attr('transform', 'translate(' + x.range()[0] + ',0)')
    .call(d3.axisLeft(p.y).tickValues(p.major).tickSize(10).tickPadding(2).tickFormat(p.fmt).tickSizeOuter(0))
    .call(styleAxis);

  // y title, two lines
  svg.append('text')
    .attr('transform', 'translate(' + p.lab1 + ',' + p.labY + ') rotate(-90)')
    .attr('text-anchor', 'middle').attr('font-size', 28)
    .text('(Obs-Calc)');
  var t = svg.append('text')
    .attr('transform', 'translate(' + p.lab2 + ',' + p.labY + ') rotate(-90)')
    .attr('text-anchor', 'middle').attr('font-size', 28);
  t.append('tspan').text('in 10');
  t.append('tspan').attr('dy', -11).attr('font-size', 17).text('-3');
  t.append('tspan').attr('dy', 11).text(' cm');
  t.append('tspan').attr('dy', -11).attr('font-size', 17).text('-1');
}

function zeroLine(p) {
  svg.append('line')
    .attr('x1', x.range()[0]).attr('x2', x.range()[1])
    .attr('y1', p.y(0)).attr('y2', p.y(0))
    .attr('stroke', p.zero).attr('stroke-width', p.zeroW);
}

panels.forEach(drawAxes);

// panel 1: squares
var p1 = panels[0];
zeroLine(p1);
svg.append('g').selectAll('rect')
  .data(blackRes)
  .enter().append('rect')
    .attr('x', function(d) { return x(d[0]) - 5; })
    .attr('y', function(d) { return p1.y(d[1]) - 5; })
    .attr('width', 10)
    .attr('height', 10)
    .attr('fill', '#000');

// panel 2: down triangles + magenta circles
var p2 = panels[1];
svg.append('g').selectAll('path')
  .data(blueRes.concat(blueFlagged))
  .enter().append('path')
    .attr('d', 'M-7,-4.5L7,-4.5L0,7.5Z')
    .attr('transform', function(d) { return 'translate(' + x(d[0]) + ',' + p2.y(d[1]) + ')'; })
    .attr('fill', '#0000ff');
svg.append('g').selectAll('circle')
  .data(blueFlagged)
  .enter().append('circle')
    .attr('cx', function(d) { return x(d[0]); })
    .attr('cy', function(d) { return p2.y(d[1]); })
    .attr('r', 8)
    .attr('fill', 'none')
    .attr('stroke', '#ff00ff')
    .attr('stroke-width', 1.6);
zeroLine(p2);

// panel 3: circles
var p3 = panels[2];
svg.append('g').selectAll('circle')
  .data(redRes)
  .enter().append('circle')
    .attr('cx', function(d) { return x(d[0]); })
    .attr('cy', function(d) { return p3.y(d[1]); })
    .attr('r', 6)
    .attr('fill', '#ff0000');
zeroLine(p3);

// titles
function piece(g, str, px, py, size, fam) {
  return g.append('text').attr('x', px).attr('y', py).attr('font-size', size)
    .style('font-family', fam || FONT).text(str);
}
var ARROW = '"DejaVu Sans", sans-serif';

var t1 = svg.append('g').attr('font-weight', 'bold').attr('fill', '#000');
piece(t1, 'This work:', 372, 32, 29);
piece(t1, '2\u03bd', 531, 32, 29);
piece(t1, '3', 573, 43, 19);
piece(t1, '\u2194', 583, 32, 24, ARROW);
piece(t1, '\u03bd', 603, 32, 29);
piece(t1, '6', 621, 43, 19);
piece(t1, '\u2194', 649, 32, 24, ARROW);
piece(t1, '\u03bd', 683, 32, 29);
piece(t1, '2', 708, 43, 19);

var t2 = svg.append('g').attr('font-weight', 'bold').attr('fill', '#0000ff');
piece(t2, 'This work:', 440, 330, 27);
piece(t2, '\u03bd', 584, 330, 27);
piece(t2, '6', 604, 340, 18);

var t3 = svg.append('text').attr('x', 383).attr('y', 574)
  .attr('font-size', 30).attr('fill', '#ff0000');
t3.append('tspan').text('Carocci ');
t3.append('tspan').attr('font-style', 'italic').text('et al.');
t3.append('tspan').text(' 1998');

svg.append('text').attr('x', 535).attr('y', 795)
  .attr('text-anchor', 'middle').attr('font-size', 25)
  .text('K+(J/100)');
</script>
</body>
</html>
